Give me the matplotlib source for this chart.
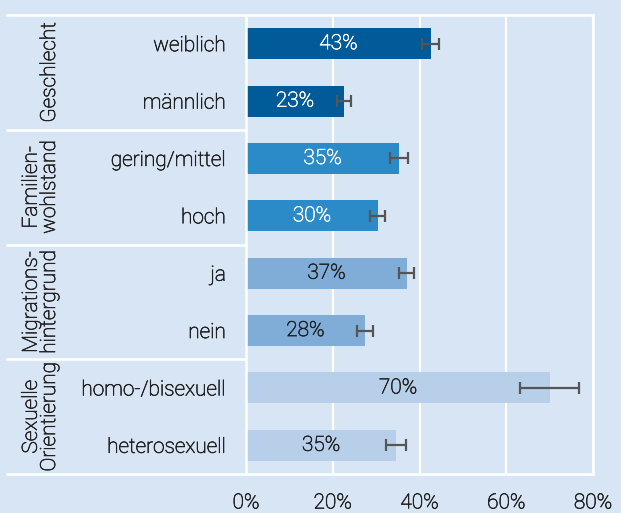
import matplotlib
matplotlib.use("Agg")
import matplotlib.pyplot as plt
import matplotlib.patheffects as pe
from matplotlib import font_manager

categories = ["weiblich", "männlich", "gering/mittel", "hoch", "ja", "nein",
              "homo-/bisexuell", "heterosexuell"]
values = [42.6, 22.6, 35.3, 30.4, 37.1, 27.4, 70.1, 34.6]
value_labels = ["43%", "23%", "35%", "30%", "37%", "28%", "70%", "35%"]
err_low = [40.6, 21.0, 33.2, 28.6, 35.3, 25.6, 63.2, 32.3]
err_high = [44.5, 24.2, 37.3, 32.0, 38.7, 29.3, 76.8, 36.9]
groups = ["Geschlecht", "Familien-\nwohlstand", "Migrations-\nhintergrund",
          "Sexuelle\nOrientierung"]
xticks = [0, 20, 40, 60, 80]
xtick_labels = ["0%", "20%", "40%", "60%", "80%"]

bar_colors = ["#005b98", "#005b98", "#2b8bc9", "#2b8bc9", "#80acd8", "#80acd8",
              "#b8cfea", "#b8cfea"]
text_colors = ["#ffffff"] * 4 + ["#222222"] * 4
BG = "#d8e5f4"
TXT = "#222222"
FS = 15
WT = "light"


def thick(c):
    return [pe.withStroke(linewidth=0.45, foreground=c)]


fams = {f.name for f in font_manager.fontManager.ttflist}
FONT = "Roboto" if "Roboto" in fams else "DejaVu Sans"
plt.rcParams["font.family"] = [FONT, "DejaVu Sans"]
plt.rcParams["font.weight"] = WT

fig = plt.figure(figsize=(6.21, 5.13), dpi=100, facecolor=BG)
W, H = 621, 513
x0, x1, y0, y1 = 246, 593, 15, 474
ax = fig.add_axes([x0 / W, 1 - y1 / H, (x1 - x0) / W, (y1 - y0) / H])
ax.set_facecolor(BG)

n = len(categories)
ypos = list(range(n))
ax.barh(ypos, values, height=0.54, color=bar_colors, zorder=3)
xerr = [[v - l for v, l in zip(values, err_low)],
        [h - v for v, h in zip(values, err_high)]]
ax.errorbar(values, ypos, xerr=xerr, fmt="none", ecolor="#555555",
            elinewidth=1.6, capsize=4.6, capthick=1.6, zorder=4)
for y, v, lab, tc in zip(ypos, values, value_labels, text_colors):
    ax.text(v / 2, y, lab, ha="center", va="center", color=tc, fontsize=FS,
            fontweight=WT, zorder=5, path_effects=thick(tc))

ax.set_xlim(0, 80)
ax.set_ylim(n - 0.5, -0.5)
ax.set_xticks(xticks)
ax.set_xticklabels(xtick_labels, fontsize=FS, color=TXT, fontweight=WT)
ax.tick_params(axis="x", length=0, pad=14)
ax.set_yticks(ypos)
ax.set_yticklabels(categories, fontsize=FS, color=TXT, fontweight=WT)
ax.tick_params(axis="y", length=0, pad=14.5)
for t in ax.get_xticklabels() + ax.get_yticklabels():
    t.set_path_effects(thick(TXT))
ax.grid(axis="x", color="white", linewidth=1.6, zorder=1)
for s in ax.spines.values():
    s.set_visible(False)

# frame lines: top, bottom, right edge, left edge
trans = ax.transAxes
left_frac = -(x0 - 7) / (x1 - x0)
for xs, ys in [([left_frac, 1], [1, 1]), ([left_frac, 1], [0, 0]),
               ([1, 1], [0, 1]), ([0, 0], [0, 1])]:
    ax.plot(xs, ys, transform=trans, color="white", lw=1.8,
            clip_on=False, zorder=6)

# group separators and labels
blend = matplotlib.transforms.blended_transform_factory(trans, ax.transData)
for gi, g in enumerate(groups):
    top = gi * 2 - 0.5
    if gi > 0:
        ax.plot([left_frac, -0.003], [top, top], transform=blend, color="white",
                lw=1.8, clip_on=False, zorder=6)
    ax.text(-(x0 - 59) / (x1 - x0), top + 1.0, g, transform=blend, rotation=90,
            ha="right", va="center", multialignment="center", fontsize=FS,
            color=TXT, fontweight=WT, linespacing=0.95,
            path_effects=thick(TXT))

fig.savefig("out.png", dpi=100, facecolor=BG)
